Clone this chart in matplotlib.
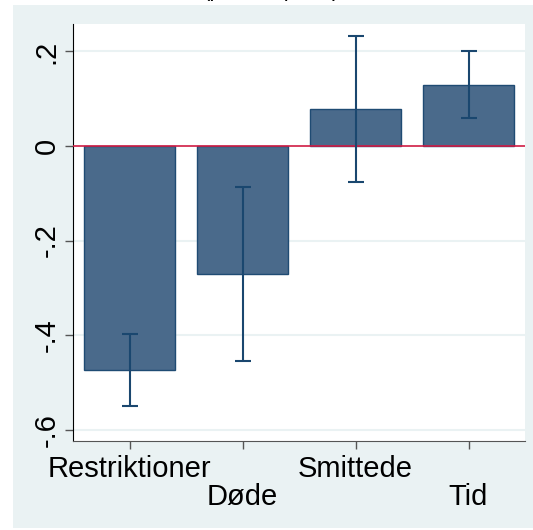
import matplotlib.pyplot as plt
from matplotlib.patches import Rectangle

categories = ["Restriktioner", "Døde", "Smittede", "Tid"]
estimates = [-0.474, -0.271, 0.078, 0.129]
ci_low = [-0.550, -0.455, -0.076, 0.059]
ci_high = [-0.398, -0.087, 0.233, 0.200]
yticks = [0.2, 0, -0.2, -0.4, -0.6]
ytick_labels = [".2", "0", "-.2", "-.4", "-.6"]

plt.rcParams['font.family'] = ['Liberation Sans', 'DejaVu Sans']

W, H = 533, 530
fig = plt.figure(figsize=(W / 100, H / 100), dpi=100)
fig.patch.set_facecolor("white")

# stata-style outer panel, behind the axes
fig.patches.append(Rectangle((13 / W, 1 - 528 / H), (533 - 13) / W, (528 - 5) / H,
                             transform=fig.transFigure, facecolor="#EAF2F3",
                             edgecolor="none", zorder=-10))

# cut-off title line at the very top
fig.text(271 / W, 1 + 4 / H, "(procentpoint)", ha="center", va="baseline", fontsize=16)

ax = fig.add_axes([73 / W, 1 - 441 / H, (525 - 73) / W, (441 - 24) / H])
ax.set_facecolor("white")

x = list(range(1, len(categories) + 1))
yerr = [[e - lo for e, lo in zip(estimates, ci_low)],
        [hi - e for e, hi in zip(estimates, ci_high)]]

for t in yticks:
    if t != 0:
        ax.axhline(t, color="#EAF2F3", lw=1.5, zorder=0)

ax.bar(x, estimates, width=0.8, color="#4A6A8B", edgecolor="#1F4B73", lw=1.0, zorder=2)
ax.axhline(0, color="#D01C44", lw=1.2, zorder=3)
ax.errorbar(x, estimates, yerr=yerr, fmt="none", ecolor="#1A476F", elinewidth=1.5,
            capsize=6, capthick=1.5, zorder=4)

ax.set_xlim(0.5, 4.5)
ax.set_ylim(-0.624, 0.258)

ax.set_yticks(yticks)
ax.set_yticklabels(ytick_labels, rotation=90, va="center", fontsize=21)
ax.set_xticks(x)
ax.set_xticklabels([c if i % 2 == 0 else "\n" + c for i, c in enumerate(categories)],
                   fontsize=21)
for lab in ax.get_xticklabels():
    lab.set_linespacing(1.0)

ax.tick_params(axis="both", direction="out", length=6, width=1, color="#555555", pad=3)
ax.tick_params(axis="x", pad=4)
for s in ["top", "right"]:
    ax.spines[s].set_visible(False)
ax.spines["left"].set_color("black")
ax.spines["bottom"].set_color("#555555")

fig.savefig("out.png", dpi=100)
